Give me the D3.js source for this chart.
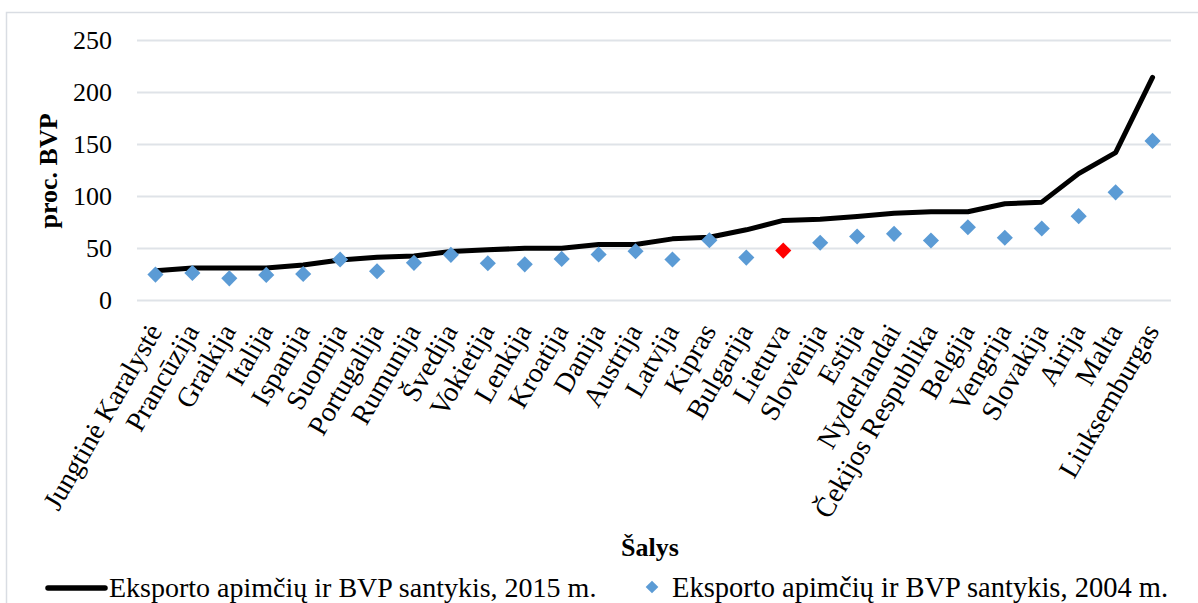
<!DOCTYPE html>
<html>
<head>
<meta charset="utf-8">
<script src="https://cdn.jsdelivr.net/npm/d3@7"></script>
<style>
body { margin: 0; background: #fff; }
text { font-family: "Liberation Serif", "Times New Roman", serif; fill: #000; }
</style>
</head>
<body>
<script>
// salys, surusiuotos pagal 2015 m. santyki
var countries = ['Jungtinė Karalystė','Prancūzija','Graikija','Italija','Ispanija','Suomija','Portugalija','Rumunija','Švedija','Vokietija','Lenkija','Kroatija','Danija','Austrija','Latvija','Kipras','Bulgarija','Lietuva','Slovėnija','Estija','Nyderlandai','Čekijos Respublika','Belgija','Vengrija','Slovakija','Airija','Malta','Liuksemburgas'];
var values2015 = [28.2,30.8,30.8,30.8,33.7,38.5,41,42.4,46.6,48.2,49.8,49.8,53.3,53.3,58.8,60.4,67.5,76.5,77.7,80.3,83.5,84.8,84.8,92.5,94.1,121.5,141.7,214];
var values2004 = [24.4,26,20.8,24.1,25,38.9,27.6,35.7,43.4,35.3,34.3,39.5,43.7,46.9,38.9,57.5,40.8,47.5,55,61,63.6,57.2,70,59.8,68.8,80.6,103.5,153];
var yTicks = [0,50,100,150,200,250];
var highlight = 'Lietuva';

var width = 1198, height = 603;
var plotLeft = 137, plotRight = 1171, plotTop = 40, plotBottom = 300;

var svg = d3.select('body').append('svg')
	.attr('width', width)
	.attr('height', height);

// chart frame
svg.append('rect')
	.attr('x', 6.5).attr('y', 12.5)
	.attr('width', 1240).attr('height', 640)
	.attr('fill', 'none')
	.attr('stroke', '#d9dde3')
	.attr('stroke-width', 1.5);

var x = d3.scaleBand().domain(countries).range([plotLeft, plotRight]);
var y = d3.scaleLinear().domain([0, 250]).range([plotBottom, plotTop]);
var cx = (d) => x(d) + x.bandwidth() / 2;

// gridlines + y labels
var yAxis = svg.append('g')
	.attr('transform', 'translate(' + plotLeft + ',0)')
	.call(d3.axisLeft(y).tickValues(yTicks).tickSize(-(plotRight - plotLeft)).tickPadding(25));
yAxis.select('.domain').remove();
yAxis.selectAll('.tick line').attr('stroke', '#dfe3e8').attr('stroke-width', 2);
yAxis.selectAll('.tick text')
	.attr('font-family', '"Liberation Serif", serif')
	.attr('font-size', 26)
	.attr('fill', '#000');

// category labels
svg.append('g').selectAll('text')
	.data(countries)
	.enter()
	.append('text')
	.attr('transform', (d) => 'translate(' + (cx(d) - 1) + ',' + 326 + ') rotate(-60)')
	.attr('text-anchor', 'end')
	.attr('dy', '0.35em')
	.attr('font-size', 28)
	.text((d) => d);

// 2015 line
var line = d3.line()
	.x((d, i) => cx(countries[i]))
	.y((d) => y(d));
svg.append('path')
	.datum(values2015)
	.attr('d', line)
	.attr('fill', 'none')
	.attr('stroke', '#000')
	.attr('stroke-width', 5)
	.attr('stroke-linejoin', 'round')
	.attr('stroke-linecap', 'round');

// 2004 diamonds
var diamond = d3.symbol().type(d3.symbolSquare).size(130);
svg.append('g').selectAll('path')
	.data(values2004)
	.enter()
	.append('path')
	.attr('d', diamond)
	.attr('transform', (d, i) => 'translate(' + cx(countries[i]) + ',' + y(d) + ') rotate(45)')
	.attr('fill', (d, i) => countries[i] == highlight ? '#ff0000' : '#5b9bd5');

// axis titles
svg.append('text')
	.attr('transform', 'translate(57,171) rotate(-90)')
	.attr('text-anchor', 'middle')
	.attr('font-size', 26)
	.attr('font-weight', 'bold')
	.text('proc. BVP');
svg.append('text')
	.attr('x', 650).attr('y', 556)
	.attr('text-anchor', 'middle')
	.attr('font-size', 26)
	.attr('font-weight', 'bold')
	.text('Šalys');

// legend
var legend = svg.append('g');
legend.append('line')
	.attr('x1', 48).attr('x2', 105)
	.attr('y1', 588).attr('y2', 588)
	.attr('stroke', '#000')
	.attr('stroke-width', 5.5)
	.attr('stroke-linecap', 'round');
legend.append('text')
	.attr('x', 109).attr('y', 597)
	.attr('font-size', 28)
	.text('Eksporto apimčių ir BVP santykis, 2015 m.');
legend.append('path')
	.attr('d', d3.symbol().type(d3.symbolSquare).size(80))
	.attr('transform', 'translate(652,587) rotate(45)')
	.attr('fill', '#5b9bd5');
legend.append('text')
	.attr('x', 672).attr('y', 597)
	.attr('font-size', 28.5)
	.text('Eksporto apimčių ir BVP santykis, 2004 m.');
</script>
</body>
</html>
